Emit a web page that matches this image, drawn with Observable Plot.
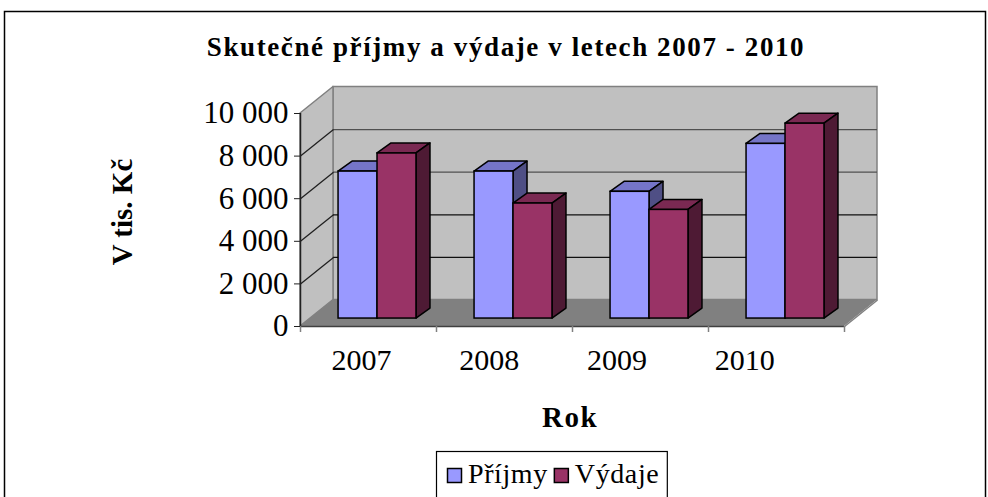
<!DOCTYPE html>
<html>
<head>
<meta charset="utf-8">
<script src="https://cdn.jsdelivr.net/npm/d3@7"></script>
<script src="https://cdn.jsdelivr.net/npm/@observablehq/plot@0.6"></script>
<style>
  html, body { margin: 0; padding: 0; background: #fff; }
  #chart { width: 988px; height: 497px; overflow: hidden; }
</style>
</head>
<body>
<div id="chart"></div>
<script>
// ---- data ----
const title = "Skutečné příjmy a výdaje v letech 2007 - 2010";
const yAxisTitle = "V tis. Kč";
const xAxisTitle = "Rok";
const years = ["2007", "2008", "2009", "2010"];
const seriesNames = ["Příjmy", "Výdaje"];
const prijmy = [6900, 6900, 5950, 8200];
const vydaje = [7750, 5400, 5100, 9150];
const yTicks = [0, 2000, 4000, 6000, 8000, 10000];
const yTickLabels = ["0", "2 000", "4 000", "6 000", "8 000", "10 000"];

// ---- layout / style ----
const n = years.length;
const yMax = 10000;
const frontLeft = 300, frontRight = 844, frontTop = 113, frontBottom = 326;
const kx = (frontRight - frontLeft) / n;          // px per category unit
const ky = (frontBottom - frontTop) / yMax;       // px per value unit
const WX = 33 / kx, WY = 26.5 / ky;               // wall depth vector (data units)
const BX0 = 0.3 * WX, BY0 = 0.3 * WY;             // bar front plane
const BDX = 14 / kx, BDY = 10 / ky;               // bar depth
const gap = 0.207, bw = 0.2865;
const palette = [
  {front: "#9999ff", top: "#7575c8", side: "#4f4f85"},
  {front: "#993366", top: "#7a2952", side: "#4e1a34"}
];
const serif = "'Liberation Serif','Times New Roman',serif";

const marks = [];
// back wall
marks.push(Plot.rect([0], {x1: () => WX, x2: () => n + WX, y1: () => WY, y2: () => yMax + WY,
  fill: "#c0c0c0", stroke: "#808080", strokeWidth: 1.5}));
// side wall
marks.push(Plot.areaY([{x: 0, y1: 0, y2: yMax}, {x: WX, y1: WY, y2: yMax + WY}],
  {x: "x", y1: "y1", y2: "y2", fill: "#c0c0c0", stroke: "#808080", strokeWidth: 1.5}));
// floor
marks.push(Plot.areaX([{y: 0, x1: 0, x2: n}, {y: WY, x1: WX, x2: n + WX}],
  {y: "y", x1: "x1", x2: "x2", fill: "#808080"}));
// gridlines on back wall
const grid = yTicks.filter(d => d > 0 && d < yMax);
marks.push(Plot.ruleY(grid, {y: d => d + WY, x1: () => WX, x2: () => n + WX,
  stroke: d => d > 5000 ? "#505050" : "#101010", strokeWidth: 1.3}));
// gridlines on side wall
marks.push(Plot.link(grid, {x1: () => 0, y1: d => d, x2: () => WX, y2: d => d + WY, stroke: "#202020", strokeWidth: 1.3}));
// floor right edge
marks.push(Plot.link([0], {x1: () => n, y1: () => 0, x2: () => n + WX, y2: () => WY, stroke: "#808080", strokeWidth: 1.5}));
// axis lines
marks.push(Plot.ruleX([0], {y1: 0, y2: yMax, stroke: "#202020", strokeWidth: 1.5}));
marks.push(Plot.ruleY([0], {x1: 0, x2: n, stroke: "#404040", strokeWidth: 1.5}));
// x ticks at category boundaries
marks.push(Plot.ruleX(d3.range(n + 1), {x: d => d, y1: 0, y2: () => -6 / ky, stroke: "#808080", strokeWidth: 1.5}));
// y axis ticks + labels
marks.push(Plot.axisY(yTicks, {
  tickSize: 6, tickPadding: 6, fontSize: 31, label: null, stroke: "#202020",
  tickFormat: d => yTickLabels[yTicks.indexOf(d)]
}));
// x category labels
marks.push(Plot.text(years, {x: (d, i) => 0.449 + 0.939 * i, y: () => 0, dy: 34, text: d => d,
  fontSize: 30, fill: "#000"}));

// bars
years.forEach((yr, i) => {
  [prijmy[i], vydaje[i]].forEach((v, s) => {
    const c = palette[s];
    const a = i + gap + s * bw + BX0, b = a + bw;
    marks.push(Plot.areaX([{y: v + BY0, x1: a, x2: b}, {y: v + BY0 + BDY, x1: a + BDX, x2: b + BDX}],
      {y: "y", x1: "x1", x2: "x2", fill: c.top, stroke: "#000", strokeWidth: 1.5, strokeLinejoin: "round"}));
    marks.push(Plot.areaY([{x: b, y1: BY0, y2: v + BY0}, {x: b + BDX, y1: BY0 + BDY, y2: v + BY0 + BDY}],
      {x: "x", y1: "y1", y2: "y2", fill: c.side, stroke: "#000", strokeWidth: 1.5, strokeLinejoin: "round"}));
    marks.push(Plot.rect([v], {x1: () => a, x2: () => b, y1: () => BY0, y2: d => d + BY0,
      fill: c.front, stroke: "#000", strokeWidth: 1.5}));
  });
});

const svg = Plot.plot({
  width: 988, height: 497,
  marginLeft: frontLeft, marginRight: 988 - frontRight,
  marginTop: frontTop, marginBottom: 497 - frontBottom,
  x: {type: "linear", domain: [0, n], axis: null},
  y: {type: "linear", domain: [0, yMax], axis: null},
  style: {fontFamily: serif, color: "#000", background: "#fff", overflow: "visible"},
  marks
});
document.getElementById("chart").appendChild(svg);

const S = d3.select(svg);
// outer border
S.append("rect").attr("x", 4.5).attr("y", 11.5).attr("width", 981).attr("height", 600)
  .attr("fill", "none").attr("stroke", "#000").attr("stroke-width", 1.5);
// title
S.append("text").attr("x", 506).attr("y", 56).attr("text-anchor", "middle")
  .style("font-family", serif).style("font-weight", "bold").style("font-size", "27px")
  .style("letter-spacing", "1.6px").attr("fill", "#000").text(title);
// y axis title
S.append("text").attr("transform", "translate(132,212) rotate(-90)").attr("text-anchor", "middle")
  .style("font-family", serif).style("font-weight", "bold").style("font-size", "29px")
  .attr("fill", "#000").text(yAxisTitle);
// x axis title
S.append("text").attr("x", 570).attr("y", 427).attr("text-anchor", "middle")
  .style("font-family", serif).style("font-weight", "bold").style("font-size", "29px")
  .style("letter-spacing", "1.5px").attr("fill", "#000").text(xAxisTitle);

// legend
const lg = S.append("g");
const box = lg.append("rect").attr("x", 436.5).attr("y", 451.5).attr("height", 80)
  .attr("fill", "#fff").attr("stroke", "#000").attr("stroke-width", 1.2);
let cx = 447;
seriesNames.forEach((name, s) => {
  lg.append("rect").attr("x", cx + 0.5).attr("y", 468.5).attr("width", 14).attr("height", 14)
    .attr("fill", palette[s].front).attr("stroke", "#000").attr("stroke-width", 1.5);
  const t = lg.append("text").attr("x", cx + 21).attr("y", 483).attr("text-anchor", "start")
    .style("font-family", serif).style("font-size", "28px").style("letter-spacing", "0.6px")
    .attr("fill", "#000").text(name);
  cx = cx + 21 + t.node().getComputedTextLength() + 6;
});
box.attr("width", cx - 436.5 + 2);
</script>
</body>
</html>
